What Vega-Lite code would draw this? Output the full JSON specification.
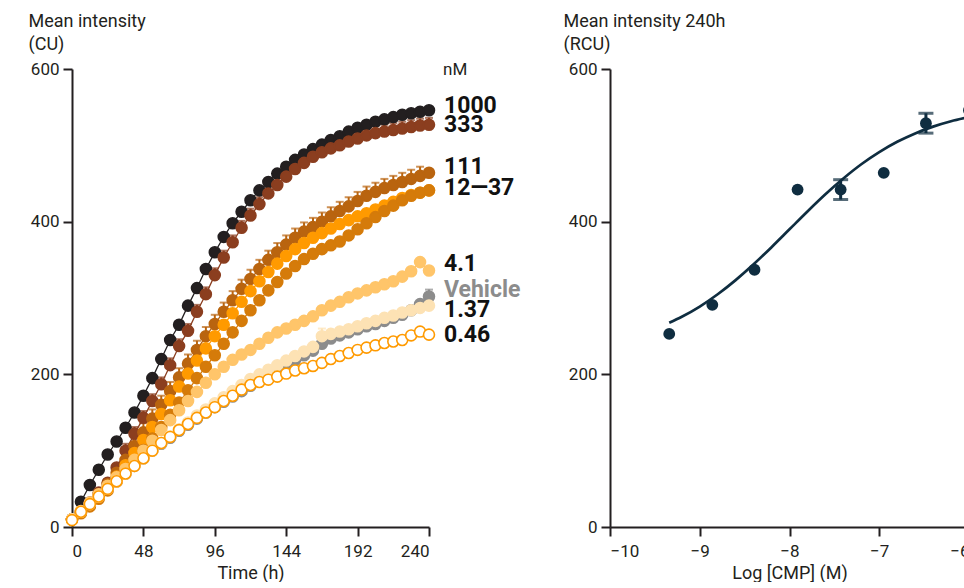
{
  "$schema": "https://vega.github.io/schema/vega-lite/v6.json",
  "background": "white",
  "padding": {"left": 28, "top": 12, "right": 0, "bottom": 0},
  "config": {
    "view": {"stroke": null},
    "font": "Roboto",
    "axis": {
      "grid": false,
      "domainColor": "#231f20",
      "domainWidth": 2,
      "tickColor": "#231f20",
      "tickWidth": 2,
      "tickSize": 9,
      "labelFont": "Roboto",
      "labelFontSize": 17,
      "labelColor": "#231f20",
      "labelPadding": 4,
      "titleFont": "Roboto",
      "titleFontSize": 18,
      "titleFontWeight": "normal",
      "titleColor": "#231f20"
    }
  },
  "datasets": {
    "ts": [
      {"s":"Vehicle","t":0,"v":10},{"s":"Vehicle","t":6,"v":20},{"s":"Vehicle","t":12,"v":30},{"s":"Vehicle","t":18,"v":40},{"s":"Vehicle","t":24,"v":50},{"s":"Vehicle","t":30,"v":60},{"s":"Vehicle","t":36,"v":70},{"s":"Vehicle","t":42,"v":80},{"s":"Vehicle","t":48,"v":90},{"s":"Vehicle","t":54,"v":100},{"s":"Vehicle","t":60,"v":109},{"s":"Vehicle","t":66,"v":117},{"s":"Vehicle","t":72,"v":126},{"s":"Vehicle","t":78,"v":134},{"s":"Vehicle","t":84,"v":142},{"s":"Vehicle","t":90,"v":150},{"s":"Vehicle","t":96,"v":157},{"s":"Vehicle","t":102,"v":164},{"s":"Vehicle","t":108,"v":171},{"s":"Vehicle","t":114,"v":178},{"s":"Vehicle","t":120,"v":185},{"s":"Vehicle","t":126,"v":192},{"s":"Vehicle","t":132,"v":199},{"s":"Vehicle","t":138,"v":206},{"s":"Vehicle","t":144,"v":213},{"s":"Vehicle","t":150,"v":219},{"s":"Vehicle","t":156,"v":225},{"s":"Vehicle","t":162,"v":231},{"s":"Vehicle","t":168,"v":240},{"s":"Vehicle","t":174,"v":247},{"s":"Vehicle","t":180,"v":251},{"s":"Vehicle","t":186,"v":255},{"s":"Vehicle","t":192,"v":259},{"s":"Vehicle","t":198,"v":263},{"s":"Vehicle","t":204,"v":266},{"s":"Vehicle","t":210,"v":270},{"s":"Vehicle","t":216,"v":274},{"s":"Vehicle","t":222,"v":278},{"s":"Vehicle","t":228,"v":284},{"s":"Vehicle","t":234,"v":292},{"s":"Vehicle","t":240,"v":302,"hi":311},
      {"s":"1000","t":0,"v":10},{"s":"1000","t":6,"v":33},{"s":"1000","t":12,"v":55},{"s":"1000","t":18,"v":75},{"s":"1000","t":24,"v":95},{"s":"1000","t":30,"v":112},{"s":"1000","t":36,"v":130},{"s":"1000","t":42,"v":150},{"s":"1000","t":48,"v":172},{"s":"1000","t":54,"v":195},{"s":"1000","t":60,"v":220},{"s":"1000","t":66,"v":245},{"s":"1000","t":72,"v":265},{"s":"1000","t":78,"v":290},{"s":"1000","t":84,"v":313},{"s":"1000","t":90,"v":338},{"s":"1000","t":96,"v":360},{"s":"1000","t":102,"v":380},{"s":"1000","t":108,"v":398},{"s":"1000","t":114,"v":413},{"s":"1000","t":120,"v":428},{"s":"1000","t":126,"v":441},{"s":"1000","t":132,"v":452},{"s":"1000","t":138,"v":463},{"s":"1000","t":144,"v":472},{"s":"1000","t":150,"v":481},{"s":"1000","t":156,"v":488},{"s":"1000","t":162,"v":495},{"s":"1000","t":168,"v":501},{"s":"1000","t":174,"v":507},{"s":"1000","t":180,"v":512},{"s":"1000","t":186,"v":518},{"s":"1000","t":192,"v":523},{"s":"1000","t":198,"v":527},{"s":"1000","t":204,"v":531},{"s":"1000","t":210,"v":534},{"s":"1000","t":216,"v":537},{"s":"1000","t":222,"v":540},{"s":"1000","t":228,"v":542},{"s":"1000","t":234,"v":544},{"s":"1000","t":240,"v":546},
      {"s":"333","t":0,"v":10},{"s":"333","t":6,"v":20},{"s":"333","t":12,"v":32},{"s":"333","t":18,"v":45},{"s":"333","t":24,"v":58},{"s":"333","t":30,"v":78},{"s":"333","t":36,"v":100,"hi":109},{"s":"333","t":42,"v":122,"hi":131},{"s":"333","t":48,"v":143,"hi":152},{"s":"333","t":54,"v":165,"hi":174},{"s":"333","t":60,"v":187,"hi":196},{"s":"333","t":66,"v":212,"hi":221},{"s":"333","t":72,"v":237,"hi":246},{"s":"333","t":78,"v":257,"hi":266},{"s":"333","t":84,"v":282,"hi":291},{"s":"333","t":90,"v":305,"hi":314},{"s":"333","t":96,"v":330,"hi":339},{"s":"333","t":102,"v":353,"hi":362},{"s":"333","t":108,"v":373,"hi":382},{"s":"333","t":114,"v":392,"hi":401},{"s":"333","t":120,"v":408,"hi":417},{"s":"333","t":126,"v":423,"hi":432},{"s":"333","t":132,"v":437,"hi":446},{"s":"333","t":138,"v":448,"hi":457},{"s":"333","t":144,"v":459,"hi":468},{"s":"333","t":150,"v":469,"hi":478},{"s":"333","t":156,"v":477,"hi":486},{"s":"333","t":162,"v":485,"hi":494},{"s":"333","t":168,"v":491,"hi":500},{"s":"333","t":174,"v":496,"hi":505},{"s":"333","t":180,"v":500,"hi":509},{"s":"333","t":186,"v":505,"hi":514},{"s":"333","t":192,"v":509,"hi":518},{"s":"333","t":198,"v":513,"hi":522},{"s":"333","t":204,"v":516,"hi":525},{"s":"333","t":210,"v":518,"hi":527},{"s":"333","t":216,"v":520,"hi":529},{"s":"333","t":222,"v":522,"hi":531},{"s":"333","t":228,"v":524,"hi":533},{"s":"333","t":234,"v":526,"hi":535},{"s":"333","t":240,"v":527,"hi":536},
      {"s":"111","t":0,"v":10},{"s":"111","t":6,"v":20},{"s":"111","t":12,"v":31},{"s":"111","t":18,"v":43},{"s":"111","t":24,"v":56},{"s":"111","t":30,"v":71},{"s":"111","t":36,"v":88},{"s":"111","t":42,"v":106,"hi":118},{"s":"111","t":48,"v":124,"hi":136},{"s":"111","t":54,"v":142,"hi":154},{"s":"111","t":60,"v":160,"hi":172},{"s":"111","t":66,"v":178,"hi":190},{"s":"111","t":72,"v":196,"hi":208},{"s":"111","t":78,"v":214,"hi":226},{"s":"111","t":84,"v":232,"hi":244},{"s":"111","t":90,"v":250,"hi":262},{"s":"111","t":96,"v":266,"hi":278},{"s":"111","t":102,"v":282,"hi":294},{"s":"111","t":108,"v":297,"hi":309},{"s":"111","t":114,"v":312,"hi":324},{"s":"111","t":120,"v":325,"hi":337},{"s":"111","t":126,"v":338,"hi":350},{"s":"111","t":132,"v":350,"hi":362},{"s":"111","t":138,"v":360,"hi":372},{"s":"111","t":144,"v":370,"hi":382},{"s":"111","t":150,"v":379,"hi":391},{"s":"111","t":156,"v":387,"hi":399},{"s":"111","t":162,"v":393,"hi":405},{"s":"111","t":168,"v":400,"hi":412},{"s":"111","t":174,"v":407,"hi":419},{"s":"111","t":180,"v":414,"hi":426},{"s":"111","t":186,"v":420,"hi":432},{"s":"111","t":192,"v":427,"hi":439},{"s":"111","t":198,"v":434,"hi":446},{"s":"111","t":204,"v":439,"hi":451},{"s":"111","t":210,"v":444,"hi":456},{"s":"111","t":216,"v":448,"hi":460},{"s":"111","t":222,"v":452,"hi":464},{"s":"111","t":228,"v":456,"hi":468},{"s":"111","t":234,"v":460,"hi":472},{"s":"111","t":240,"v":464},
      {"s":"12.3","t":0,"v":10},{"s":"12.3","t":6,"v":19},{"s":"12.3","t":12,"v":29},{"s":"12.3","t":18,"v":40},{"s":"12.3","t":24,"v":52},{"s":"12.3","t":30,"v":66},{"s":"12.3","t":36,"v":81},{"s":"12.3","t":42,"v":97},{"s":"12.3","t":48,"v":114},{"s":"12.3","t":54,"v":131},{"s":"12.3","t":60,"v":148},{"s":"12.3","t":66,"v":166},{"s":"12.3","t":72,"v":184},{"s":"12.3","t":78,"v":201},{"s":"12.3","t":84,"v":218},{"s":"12.3","t":90,"v":234},{"s":"12.3","t":96,"v":250},{"s":"12.3","t":102,"v":265},{"s":"12.3","t":108,"v":280},{"s":"12.3","t":114,"v":295},{"s":"12.3","t":120,"v":309},{"s":"12.3","t":126,"v":322},{"s":"12.3","t":132,"v":334},{"s":"12.3","t":138,"v":345},{"s":"12.3","t":144,"v":355},{"s":"12.3","t":150,"v":364},{"s":"12.3","t":156,"v":372},{"s":"12.3","t":162,"v":379},{"s":"12.3","t":168,"v":385},{"s":"12.3","t":174,"v":391},{"s":"12.3","t":180,"v":397},{"s":"12.3","t":186,"v":402},{"s":"12.3","t":192,"v":407},{"s":"12.3","t":198,"v":411},{"s":"12.3","t":204,"v":416},{"s":"12.3","t":210,"v":421},{"s":"12.3","t":216,"v":426},{"s":"12.3","t":222,"v":431},{"s":"12.3","t":228,"v":435},{"s":"12.3","t":234,"v":438},{"s":"12.3","t":240,"v":441},
      {"s":"37","t":0,"v":10},{"s":"37","t":6,"v":18},{"s":"37","t":12,"v":27},{"s":"37","t":18,"v":37},{"s":"37","t":24,"v":48},{"s":"37","t":30,"v":60},{"s":"37","t":36,"v":73},{"s":"37","t":42,"v":87},{"s":"37","t":48,"v":101},{"s":"37","t":54,"v":116},{"s":"37","t":60,"v":131},{"s":"37","t":66,"v":147},{"s":"37","t":72,"v":163},{"s":"37","t":78,"v":179},{"s":"37","t":84,"v":195},{"s":"37","t":90,"v":210},{"s":"37","t":96,"v":225},{"s":"37","t":102,"v":240},{"s":"37","t":108,"v":255},{"s":"37","t":114,"v":270},{"s":"37","t":120,"v":284},{"s":"37","t":126,"v":297},{"s":"37","t":132,"v":310},{"s":"37","t":138,"v":321},{"s":"37","t":144,"v":332},{"s":"37","t":150,"v":342},{"s":"37","t":156,"v":351},{"s":"37","t":162,"v":358},{"s":"37","t":168,"v":364},{"s":"37","t":174,"v":369},{"s":"37","t":180,"v":374},{"s":"37","t":186,"v":382},{"s":"37","t":192,"v":390},{"s":"37","t":198,"v":398},{"s":"37","t":204,"v":406},{"s":"37","t":210,"v":414},{"s":"37","t":216,"v":421},{"s":"37","t":222,"v":428},{"s":"37","t":228,"v":434},{"s":"37","t":234,"v":438},{"s":"37","t":240,"v":441},
      {"s":"4.1","t":0,"v":10},{"s":"4.1","t":6,"v":21},{"s":"4.1","t":12,"v":32},{"s":"4.1","t":18,"v":43},{"s":"4.1","t":24,"v":54},{"s":"4.1","t":30,"v":65},{"s":"4.1","t":36,"v":76},{"s":"4.1","t":42,"v":88},{"s":"4.1","t":48,"v":100},{"s":"4.1","t":54,"v":113},{"s":"4.1","t":60,"v":127},{"s":"4.1","t":66,"v":140},{"s":"4.1","t":72,"v":153},{"s":"4.1","t":78,"v":165},{"s":"4.1","t":84,"v":177},{"s":"4.1","t":90,"v":189},{"s":"4.1","t":96,"v":200},{"s":"4.1","t":102,"v":210},{"s":"4.1","t":108,"v":219},{"s":"4.1","t":114,"v":226},{"s":"4.1","t":120,"v":232},{"s":"4.1","t":126,"v":240},{"s":"4.1","t":132,"v":248},{"s":"4.1","t":138,"v":255},{"s":"4.1","t":144,"v":260},{"s":"4.1","t":150,"v":265},{"s":"4.1","t":156,"v":270},{"s":"4.1","t":162,"v":276},{"s":"4.1","t":168,"v":284},{"s":"4.1","t":174,"v":290},{"s":"4.1","t":180,"v":295},{"s":"4.1","t":186,"v":301},{"s":"4.1","t":192,"v":306},{"s":"4.1","t":198,"v":310},{"s":"4.1","t":204,"v":314},{"s":"4.1","t":210,"v":318},{"s":"4.1","t":216,"v":322},{"s":"4.1","t":222,"v":328},{"s":"4.1","t":228,"v":335},{"s":"4.1","t":234,"v":347},{"s":"4.1","t":240,"v":336},
      {"s":"1.37","t":0,"v":10},{"s":"1.37","t":6,"v":20},{"s":"1.37","t":12,"v":30},{"s":"1.37","t":18,"v":40},{"s":"1.37","t":24,"v":50},{"s":"1.37","t":30,"v":60},{"s":"1.37","t":36,"v":70},{"s":"1.37","t":42,"v":80},{"s":"1.37","t":48,"v":90},{"s":"1.37","t":54,"v":100},{"s":"1.37","t":60,"v":110},{"s":"1.37","t":66,"v":119},{"s":"1.37","t":72,"v":128},{"s":"1.37","t":78,"v":137},{"s":"1.37","t":84,"v":146},{"s":"1.37","t":90,"v":154},{"s":"1.37","t":96,"v":162},{"s":"1.37","t":102,"v":170},{"s":"1.37","t":108,"v":178},{"s":"1.37","t":114,"v":186},{"s":"1.37","t":120,"v":194},{"s":"1.37","t":126,"v":200},{"s":"1.37","t":132,"v":206},{"s":"1.37","t":138,"v":212},{"s":"1.37","t":144,"v":218},{"s":"1.37","t":150,"v":224},{"s":"1.37","t":156,"v":230},{"s":"1.37","t":162,"v":236},{"s":"1.37","t":168,"v":250,"hi":260},{"s":"1.37","t":174,"v":253},{"s":"1.37","t":180,"v":256},{"s":"1.37","t":186,"v":259},{"s":"1.37","t":192,"v":263},{"s":"1.37","t":198,"v":267},{"s":"1.37","t":204,"v":270},{"s":"1.37","t":210,"v":274},{"s":"1.37","t":216,"v":277},{"s":"1.37","t":222,"v":281},{"s":"1.37","t":228,"v":284},{"s":"1.37","t":234,"v":287},{"s":"1.37","t":240,"v":290},
      {"s":"0.46","t":0,"v":9},{"s":"0.46","t":6,"v":20},{"s":"0.46","t":12,"v":30},{"s":"0.46","t":18,"v":40},{"s":"0.46","t":24,"v":50},{"s":"0.46","t":30,"v":60},{"s":"0.46","t":36,"v":70},{"s":"0.46","t":42,"v":80},{"s":"0.46","t":48,"v":90},{"s":"0.46","t":54,"v":100},{"s":"0.46","t":60,"v":110},{"s":"0.46","t":66,"v":118},{"s":"0.46","t":72,"v":127},{"s":"0.46","t":78,"v":135},{"s":"0.46","t":84,"v":143},{"s":"0.46","t":90,"v":150},{"s":"0.46","t":96,"v":157},{"s":"0.46","t":102,"v":165},{"s":"0.46","t":108,"v":172},{"s":"0.46","t":114,"v":180},{"s":"0.46","t":120,"v":186},{"s":"0.46","t":126,"v":190},{"s":"0.46","t":132,"v":193},{"s":"0.46","t":138,"v":197},{"s":"0.46","t":144,"v":201},{"s":"0.46","t":150,"v":205},{"s":"0.46","t":156,"v":208},{"s":"0.46","t":162,"v":211},{"s":"0.46","t":168,"v":215},{"s":"0.46","t":174,"v":220},{"s":"0.46","t":180,"v":224},{"s":"0.46","t":186,"v":228},{"s":"0.46","t":192,"v":232},{"s":"0.46","t":198,"v":235},{"s":"0.46","t":204,"v":238},{"s":"0.46","t":210,"v":241},{"s":"0.46","t":216,"v":243},{"s":"0.46","t":222,"v":245},{"s":"0.46","t":228,"v":251},{"s":"0.46","t":234,"v":256},{"s":"0.46","t":240,"v":252}
    ],
    "labels": [
      {"lab":"1000","v":552},{"lab":"333","v":527},{"lab":"111","v":471},{"lab":"12—37","v":444},{"lab":"4.1","v":345},{"lab":"Vehicle","v":311},{"lab":"1.37","v":284},{"lab":"0.46","v":252}
    ],
    "unit": [{"lab":"nM","v":599}],
    "fit": [
      {"x":-9.34,"y":267.5},{"x":-9.2,"y":275.4},{"x":-9.0,"y":288.8},{"x":-8.8,"y":304.9},{"x":-8.6,"y":323.4},{"x":-8.4,"y":344.1},{"x":-8.2,"y":366.6},{"x":-8.0,"y":390},{"x":-7.8,"y":413.4},{"x":-7.6,"y":435.9},{"x":-7.4,"y":456.6},{"x":-7.2,"y":475.2},{"x":-7.0,"y":491.1},{"x":-6.8,"y":504.6},{"x":-6.6,"y":515.6},{"x":-6.4,"y":524.5},{"x":-6.2,"y":531.5},{"x":-6.0,"y":537}
    ],
    "dr": [
      {"x":-9.34,"y":253},{"x":-8.86,"y":291},{"x":-8.39,"y":337},{"x":-7.91,"y":442},{"x":-7.43,"y":442,"lo":429,"hi":455},{"x":-6.95,"y":464},{"x":-6.48,"y":529,"lo":516,"hi":542},{"x":-6.0,"y":546}
    ]
  },
  "bounds": "flush",
  "spacing": 181,
  "hconcat": [
    {
      "width": 357,
      "height": 458,
      "layer": [
        {
          "data": {"name": "ts"},
          "transform": [{"filter": "isValid(datum.hi)"}],
          "mark": {"type": "errorbar", "thickness": 2, "ticks": {"size": 8, "thickness": 2}},
          "encoding": {
            "x": {"field": "t", "type": "quantitative", "scale": {"domain": [0, 240], "nice": false},
                  "axis": {"values": [0, 48, 96, 144, 192, 240], "title": "Time (h)", "labelPadding": 7, "titlePadding": 5}},
            "y": {"field": "v", "type": "quantitative", "scale": {"domain": [0, 600], "nice": false},
                  "axis": {"values": [0, 200, 400, 600], "title": ["Mean intensity", "(CU)"], "titleAngle": 0, "titleAlign": "left", "titleBaseline": "alphabetic", "titleX": -44, "titleY": -43, "titleLineHeight": 23}},
            "y2": {"field": "hi"},
            "color": {"field": "s", "type": "nominal", "legend": null,
                      "scale": {"domain": ["Vehicle","1000","333","111","12.3","37","4.1","1.37","0.46"], "range": ["#8c8c8c","#231f20","#8b3e1f","#b9640f","#ff9a00","#d57b0a","#ffc56a","#fde2b4","#ff9a00"]}}
          }
        },
        {
          "data": {"name": "ts"},
          "mark": {"type": "line", "strokeWidth": 1.3},
          "encoding": {
            "x": {"field": "t", "type": "quantitative"},
            "y": {"field": "v", "type": "quantitative"},
            "stroke": {"field": "s", "type": "nominal", "legend": null,
                       "scale": {"domain": ["Vehicle","1000","333","111","12.3","37","4.1","1.37","0.46"], "range": ["#8c8c8c","#231f20","#8b3e1f","#b9640f","#ff9a00","#d57b0a","#ffc56a","#fde2b4","#ff9a00"]}}
          }
        },
        {
          "data": {"name": "ts"},
          "mark": {"type": "point", "filled": true, "size": 120, "strokeWidth": 1.6, "opacity": 1},
          "encoding": {
            "x": {"field": "t", "type": "quantitative"},
            "y": {"field": "v", "type": "quantitative"},
            "fill": {"field": "s", "type": "nominal", "legend": null,
                     "scale": {"domain": ["Vehicle","1000","333","111","12.3","37","4.1","1.37","0.46"], "range": ["#8c8c8c","#231f20","#8b3e1f","#b9640f","#ff9a00","#d57b0a","#ffc56a","#fde2b4","#ffffff"]}},
            "stroke": {"field": "s", "type": "nominal", "legend": null}
          }
        },
        {
          "data": {"name": "labels"},
          "mark": {"type": "text", "align": "left", "baseline": "middle", "dx": 15, "fontSize": 23, "fontWeight": "bold", "font": "Roboto"},
          "encoding": {
            "x": {"datum": 240, "type": "quantitative"},
            "y": {"field": "v", "type": "quantitative"},
            "text": {"field": "lab"},
            "color": {"condition": {"test": "datum.lab === 'Vehicle'", "value": "#8c8c8c"}, "value": "#111111"}
          }
        },
        {
          "data": {"name": "unit"},
          "mark": {"type": "text", "align": "left", "baseline": "middle", "dx": 14, "fontSize": 17, "font": "Roboto", "color": "#231f20"},
          "encoding": {
            "x": {"datum": 240, "type": "quantitative"},
            "y": {"field": "v", "type": "quantitative"},
            "text": {"field": "lab"}
          }
        }
      ]
    },
    {
      "width": 359,
      "height": 458,
      "layer": [
        {
          "data": {"name": "dr"},
          "transform": [{"filter": "isValid(datum.hi)"}],
          "mark": {"type": "errorbar", "color": "#0f2d40", "thickness": 3, "ticks": {"size": 15, "thickness": 3}},
          "encoding": {
            "x": {"field": "x", "type": "quantitative", "scale": {"domain": [-10, -6], "nice": false},
                  "axis": {"values": [-10, -9, -8, -7, -6], "format": "d", "title": "Log [CMP] (M)", "labelPadding": 7, "titlePadding": 5}},
            "y": {"field": "lo", "type": "quantitative", "scale": {"domain": [0, 600], "nice": false},
                  "axis": {"values": [0, 200, 400, 600], "title": ["Mean intensity 240h", "(RCU)"], "titleAngle": 0, "titleAlign": "left", "titleBaseline": "alphabetic", "titleX": -47, "titleY": -43, "titleLineHeight": 23}},
            "y2": {"field": "hi"}
          }
        },
        {
          "data": {"name": "fit"},
          "mark": {"type": "line", "color": "#0f2d40", "strokeWidth": 2.7, "interpolate": "monotone"},
          "encoding": {
            "x": {"field": "x", "type": "quantitative"},
            "y": {"field": "y", "type": "quantitative"}
          }
        },
        {
          "data": {"name": "dr"},
          "mark": {"type": "point", "filled": true, "size": 140, "color": "#0f2d40", "opacity": 1},
          "encoding": {
            "x": {"field": "x", "type": "quantitative"},
            "y": {"field": "y", "type": "quantitative"}
          }
        }
      ]
    }
  ]
}
